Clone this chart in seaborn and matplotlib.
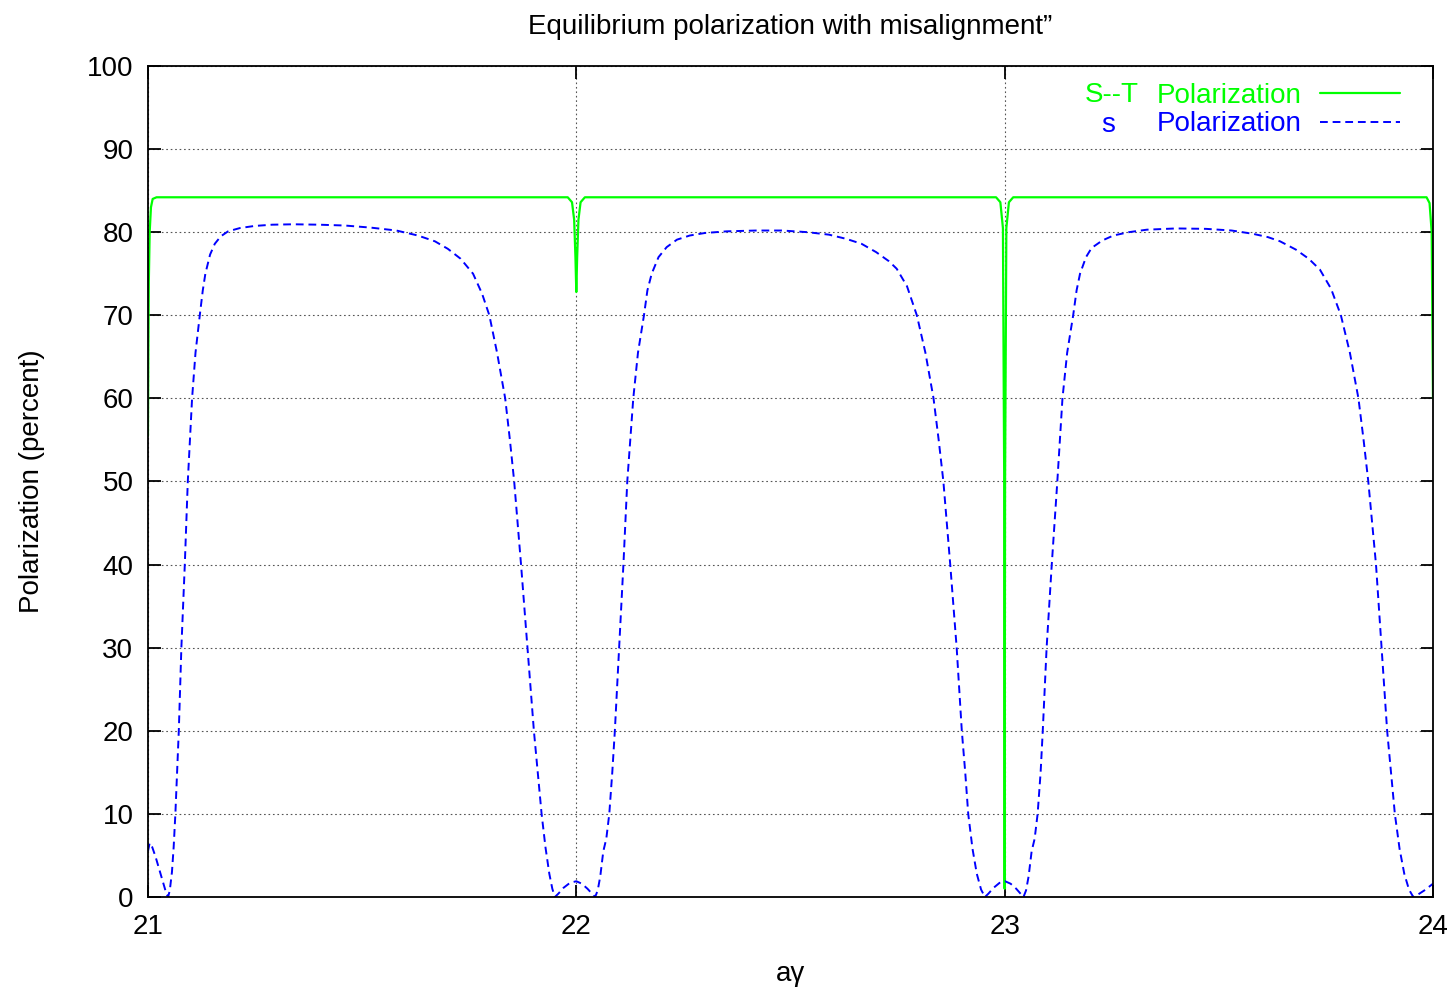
import matplotlib
matplotlib.use("Agg")
import matplotlib.pyplot as plt
import pandas as pd
import seaborn as sns

# s polarization (blue, dashed)
s_x = [21.000, 21.004, 21.010, 21.018, 21.027, 21.036, 21.043, 21.047, 21.051, 21.056,
       21.060, 21.064, 21.068, 21.072, 21.078, 21.082, 21.086, 21.093, 21.098, 21.103,
       21.111, 21.121, 21.128, 21.134, 21.145, 21.156, 21.170, 21.187, 21.215, 21.249,
       21.290, 21.340, 21.400, 21.460, 21.520, 21.580, 21.630, 21.670, 21.700, 21.730,
       21.759, 21.780, 21.797, 21.815, 21.834, 21.845, 21.855, 21.871, 21.886, 21.901,
       21.910, 21.919, 21.928, 21.937, 21.944, 21.950, 21.958, 21.970, 21.985, 22.000,
       22.013, 22.026, 22.037, 22.044, 22.050, 22.056, 22.063, 22.070, 22.077, 22.084,
       22.090, 22.100, 22.110, 22.119, 22.126, 22.133, 22.144, 22.158, 22.166, 22.176,
       22.192, 22.211, 22.235, 22.265, 22.300, 22.351, 22.420, 22.480, 22.540, 22.590,
       22.630, 22.666, 22.700, 22.730, 22.748, 22.772, 22.795, 22.815, 22.834, 22.846,
       22.857, 22.873, 22.888, 22.900, 22.908, 22.915, 22.925, 22.935, 22.945, 22.954,
       22.962, 22.974, 22.988, 23.001, 23.014, 23.027, 23.037, 23.044, 23.050, 23.056,
       23.063, 23.070, 23.077, 23.084, 23.089, 23.098, 23.110, 23.123, 23.129, 23.135,
       23.146, 23.160, 23.168, 23.176, 23.190, 23.203, 23.228, 23.254, 23.290, 23.332,
       23.400, 23.470, 23.530, 23.580, 23.615, 23.643, 23.680, 23.710, 23.736, 23.762,
       23.785, 23.806, 23.826, 23.838, 23.849, 23.867, 23.880, 23.893, 23.902, 23.911,
       23.922, 23.933, 23.944, 23.954, 23.965, 23.980, 24.000]
s_y = [5.5, 6.5, 6.0, 4.8, 3.2, 1.6, 0.4, 0.0, 0.8, 3.0,
       6.0, 10, 15, 20, 30, 35, 40, 50, 55, 60,
       65.5, 70, 73, 75, 77.3, 78.6, 79.5, 80.1, 80.5, 80.75,
       80.9, 80.95, 80.9, 80.8, 80.55, 80.2, 79.6, 78.9, 78.0, 76.8,
       75.0, 72.6, 70, 65.5, 60, 55, 50, 40, 30, 20,
       15, 10, 6.0, 2.8, 1.0, 0.0, 0.4, 1.1, 1.7, 1.9,
       1.6, 1.0, 0.4, 0.0, 0.8, 2.5, 5.5, 7.0, 10, 15,
       20, 30, 40, 50, 55, 60, 65.5, 70, 73, 75,
       77, 78.2, 79.1, 79.6, 79.9, 80.1, 80.2, 80.2, 80.0, 79.7,
       79.2, 78.6, 77.6, 76.5, 75.6, 73.5, 70, 65.5, 60, 55,
       50, 40, 30, 20, 15, 10, 5.8, 2.8, 0.9, 0.0,
       0.4, 1.1, 1.7, 1.9, 1.6, 1.0, 0.4, 0.0, 0.8, 2.5,
       5.5, 7.0, 10, 15, 20, 30, 40, 50, 55, 60,
       65.5, 70, 73, 75, 77, 78.1, 79.0, 79.6, 80.0, 80.3,
       80.45, 80.4, 80.2, 79.8, 79.4, 78.9, 77.9, 76.8, 75.5, 73.2,
       70, 65.5, 60, 55, 50, 40, 30, 20, 15, 10,
       5.8, 2.8, 0.9, 0.0, 0.3, 0.8, 1.6]

# Sokolov-Ternov polarization (green, solid)
st_x = [21.000, 21.001, 21.002, 21.004, 21.007, 21.011, 21.020, 21.980, 21.990, 21.995,
        21.998, 22.000, 22.002, 22.005, 22.010, 22.020, 22.980, 22.990, 22.996, 22.999,
        23.000, 23.001, 23.004, 23.010, 23.020, 23.985, 23.992, 23.997, 24.000]
st_y = [55.5, 66, 74, 80, 83, 84.0, 84.2, 84.2, 83.6, 81.5,
        77, 72.8, 77, 81.5, 83.6, 84.2, 84.2, 83.6, 80.5, 50,
        1.0, 50, 80.5, 83.6, 84.2, 84.2, 83.5, 80, 60]

x_ticks = [21, 22, 23, 24]
y_ticks = list(range(0, 101, 10))

GREEN = "#00ff00"
BLUE = "#0000ff"
FS = 20

sns.set_style("ticks")
plt.rcParams["font.family"] = ["Liberation Sans", "DejaVu Sans"]
plt.rcParams["text.color"] = "black"
plt.rcParams["axes.labelcolor"] = "black"
plt.rcParams["xtick.color"] = "black"
plt.rcParams["ytick.color"] = "black"

fig = plt.figure(figsize=(14.52, 9.89), dpi=100)
ax = fig.add_axes([0.1019, 0.0930, 0.8850, 0.8403])

st_df = pd.DataFrame({"x": st_x, "y": st_y})
s_df = pd.DataFrame({"x": s_x, "y": s_y})

sns.lineplot(data=st_df, x="x", y="y", ax=ax, color=GREEN, lw=1.6,
             estimator=None, sort=False, label="Polarization")
sns.lineplot(data=s_df, x="x", y="y", ax=ax, color=BLUE, lw=1.4,
             estimator=None, sort=False, label="Polarization")
ax.lines[1].set_linestyle((0, (4, 2.5)))

ax.set_xlim(21, 24)
ax.set_ylim(0, 100)
ax.set_xticks(x_ticks)
ax.set_yticks(y_ticks)
ax.tick_params(direction="in", length=9, width=1.3, labelsize=FS,
               top=True, right=True)
ax.tick_params(axis="x", pad=12)
ax.tick_params(axis="y", pad=10.5)

# gnuplot-style dotted grid
ax.grid(True, color="#555555", linestyle=(0, (1.5, 2.5)), linewidth=0.8)
for sp in ax.spines.values():
    sp.set_linewidth(1.3)
    sp.set_color("black")

ax.set_title("Equilibrium polarization with misalignment\u201d", fontsize=FS, pad=23)
ax.set_xlabel("a\u03b3", fontsize=FS, labelpad=15)
ax.set_ylabel("Polarization (percent)", fontsize=FS, labelpad=30)

leg = ax.legend(loc="upper right", bbox_to_anchor=(0.974, 0.980), frameon=True,
                facecolor="white", edgecolor="none", framealpha=1,
                markerfirst=False, labelcolor="linecolor", fontsize=FS,
                handlelength=2.88, handletextpad=0.65, labelspacing=0.1,
                borderpad=0.0, borderaxespad=0)
leg.get_frame().set_boxstyle("square", pad=0)

ax.text(0.750, 0.9650, "S--T", transform=ax.transAxes, color=GREEN, fontsize=FS,
        ha="center", va="center")
ax.text(0.747, 0.9295, "s", transform=ax.transAxes, color=BLUE, fontsize=FS,
        ha="center", va="center")

fig.savefig("out.png", dpi=100)
